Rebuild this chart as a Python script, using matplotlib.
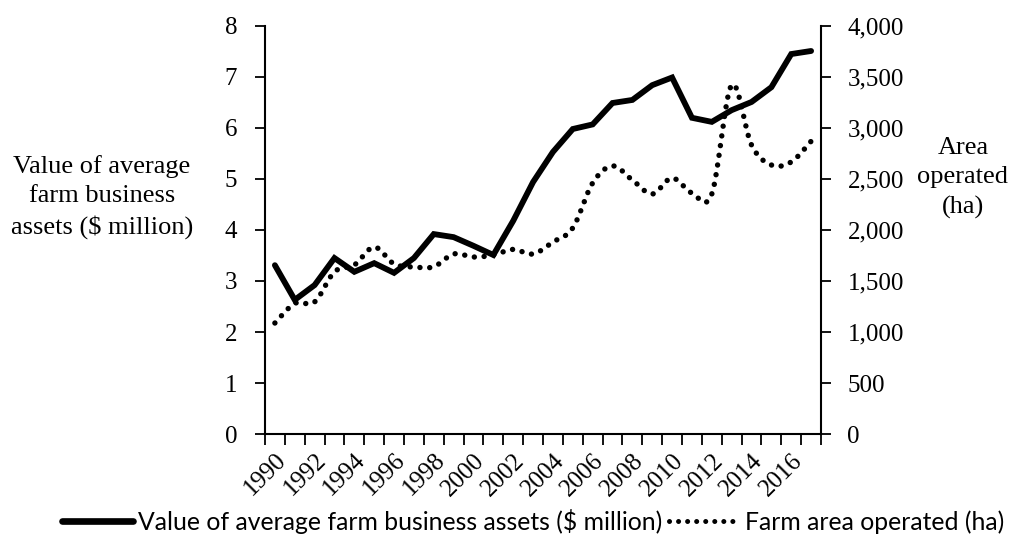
import numpy as np
import matplotlib
matplotlib.use("Agg")
import matplotlib.pyplot as plt
from matplotlib.lines import Line2D

years = list(range(1990, 2018))
assets = [3.31, 2.63, 2.92, 3.45, 3.18, 3.35, 3.16, 3.45, 3.92, 3.86, 3.69, 3.51,
          4.18, 4.94, 5.53, 5.98, 6.07, 6.49, 6.55, 6.84, 6.99, 6.20, 6.12, 6.35,
          6.51, 6.80, 7.45, 7.51]
area = [1088, 1280, 1295, 1590, 1657, 1833, 1667, 1637, 1640, 1765, 1735, 1755,
        1810, 1765, 1882, 2020, 2461, 2628, 2490, 2353, 2510, 2362, 2353, 3422,
        2833, 2637, 2667, 2870]
left_ticks = [0, 1, 2, 3, 4, 5, 6, 7, 8]
right_ticks = [0, 500, 1000, 1500, 2000, 2500, 3000, 3500, 4000]
label1 = "Value of average farm business assets ($ million)"
label2 = "Farm area operated (ha)"
ylabel_left = "Value of average\nfarm business\nassets ($ million)"
ylabel_right = "Area\noperated\n(ha)"

plt.rcParams["font.family"] = "serif"
plt.rcParams["font.serif"] = ["Liberation Serif", "DejaVu Serif"]
legend_font = ["Lato", "DejaVu Sans"]
tick_fs = 18
title_fs = 19
leg_fs = 17.8


def smooth(x, y, n=20):
    # Excel-style smoothed line (Catmull-Rom / Bezier) for drawing only
    x = np.asarray(x, float)
    y = np.asarray(y, float)
    px = np.concatenate([[x[0]], x, [x[-1]]])
    py = np.concatenate([[y[0]], y, [y[-1]]])
    xs, ys = [], []
    for i in range(1, len(px) - 2):
        p0, p1, p2, p3 = (np.array([px[j], py[j]]) for j in (i - 1, i, i + 1, i + 2))
        c1 = p1 + (p2 - p0) / 6.0
        c2 = p2 - (p3 - p1) / 6.0
        t = np.linspace(0, 1, n, endpoint=(i == len(px) - 3))[:, None]
        b = ((1 - t) ** 3) * p1 + 3 * ((1 - t) ** 2) * t * c1 + 3 * (1 - t) * t ** 2 * c2 + t ** 3 * p2
        xs.append(b[:, 0])
        ys.append(b[:, 1])
    return np.concatenate(xs), np.concatenate(ys)


fig = plt.figure(figsize=(10.14, 5.37), dpi=100)
ax = fig.add_axes([0.2613, 0.1918, 0.8097 - 0.2613, 0.9516 - 0.1918])
ax2 = ax.twinx()

dotted = (0, (0.01, 1.8))
idx = np.arange(len(years))
ax.plot(idx, assets, color="black", lw=4.2, solid_joinstyle="miter",
        solid_capstyle="round", zorder=3)
sx, sy = smooth(idx, area)
ax2.plot(sx, sy, color="black", lw=3.9, linestyle=dotted,
         dash_capstyle="round", zorder=2)

ax.set_xlim(-0.5, len(years) - 0.5)
ax.set_ylim(0, 8)
ax2.set_ylim(0, 4000)

ax.set_xticks(np.arange(-0.5, len(years), 1.0))
ax.set_xticklabels([])
ax.set_xticks(idx[::2], minor=True)
ax.set_xticklabels([str(y) for y in years[::2]], minor=True, rotation=45,
                   ha="right", va="top", rotation_mode="anchor",
                   fontsize=tick_fs)
ax.tick_params(axis="x", which="major", direction="out", length=8, width=1.3)
ax.tick_params(axis="x", which="minor", length=0, pad=11)

ax.set_yticks(left_ticks)
ax.set_yticklabels([str(v) for v in left_ticks], fontsize=tick_fs)
ax.tick_params(axis="y", direction="out", length=7, width=1.3, pad=13)
ax2.set_yticks(right_ticks)
ax2.set_yticklabels([f"{v:,}" for v in right_ticks], fontsize=tick_fs)
ax2.tick_params(axis="y", direction="out", length=7, width=1.3, pad=12)

for a in (ax, ax2):
    a.spines["top"].set_visible(False)
    for s in ("left", "right", "bottom"):
        a.spines[s].set_linewidth(1.5)
ax.spines["right"].set_visible(False)
ax2.spines["left"].set_visible(False)
ax2.spines["bottom"].set_visible(False)

fig.text(102 / 1014, 1 - 197 / 537, ylabel_left, ha="center", va="center",
         fontsize=title_fs, linespacing=1.42)
fig.text(963 / 1014, 1 - 178 / 537, ylabel_right, ha="center", va="center",
         fontsize=title_fs, linespacing=1.45)

fs_px = leg_fs * 100 / 72
handles = [Line2D([], [], color="black", lw=4.8, solid_capstyle="round"),
           Line2D([], [], color="black", lw=3.6, linestyle=dotted,
                  dash_capstyle="round")]
fig.legend(handles, [label1, label2], loc="center left",
           bbox_to_anchor=(62 / 1014, 1 - 521 / 537),
           ncol=2, frameon=False, borderpad=0, borderaxespad=0,
           handlelength=71 / fs_px, handletextpad=5 / fs_px,
           columnspacing=7 / fs_px, prop={"family": legend_font, "size": leg_fs})

fig.savefig("out.png", dpi=100)
